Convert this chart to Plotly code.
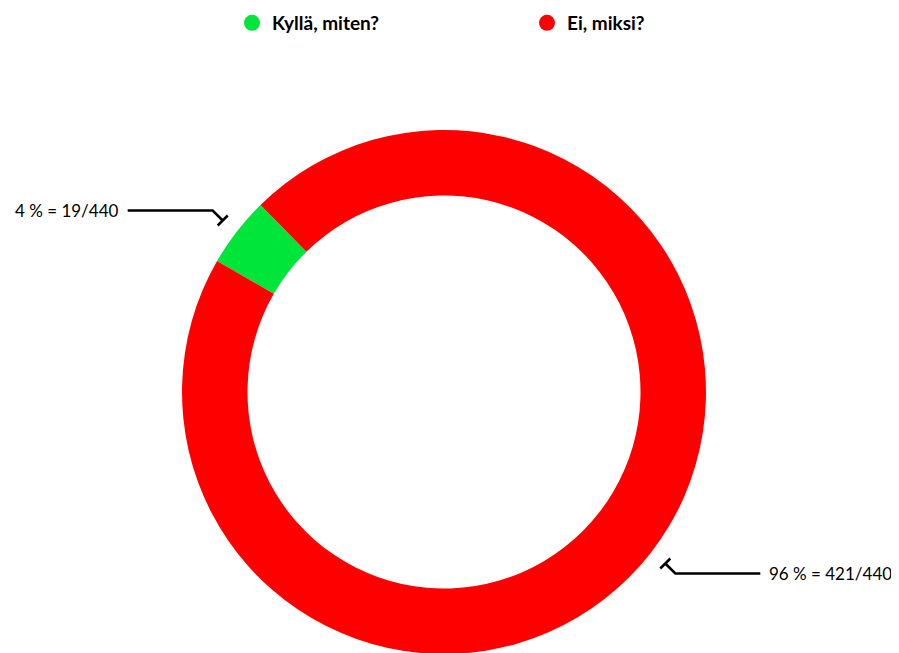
import math
import plotly.graph_objects as go

labels = ["Kyllä, miten?", "Ei, miksi?"]
values = [19, 421]
colors = ["#00E539", "#FF0000"]
total = sum(values)

W, H = 899, 653
OFF = 8                              # page body margin in the browser
CX, CY, R = 444.0 - OFF, 392.0 - OFF, 262.0   # pie centre / radius in figure px
ROT = 300
FONT = "Lato"

def px2paper(x, y):
    return x / W, 1 - y / H

fig = go.Figure()
fig.add_trace(go.Pie(
    labels=labels, values=values, hole=0.75, sort=False, direction="clockwise",
    rotation=ROT, marker=dict(colors=colors, line=dict(width=0)),
    textinfo="none", showlegend=False,
    domain=dict(x=[(CX - R) / W, (CX + R) / W],
                y=[1 - (CY + R) / H, 1 - (CY - R) / H]),
))

# legend entries with circle symbols
for lab, col in zip(labels, colors):
    fig.add_trace(go.Scatter(x=[None], y=[None], mode="markers", name=lab,
                             marker=dict(symbol="circle", size=18, color=col)))

shapes, annots = [], []
cum = 0
for lab, v in zip(labels, values):
    mid = ROT + 360 * (cum + v / 2) / total
    cum += v
    a = math.radians(mid)
    ex, ey = CX + (R + 18) * math.sin(a), CY - (R + 18) * math.cos(a)
    s = -1 if math.sin(a) < 0 else 1
    bx, by = ex + s * 10, ey + s * 10
    hx = bx + s * 85
    p = [px2paper(ex, ey), px2paper(bx, by), px2paper(hx, by)]
    shapes.append(dict(type="path", xref="paper", yref="paper",
                       path=f"M{p[0][0]},{p[0][1]} L{p[1][0]},{p[1][1]} L{p[2][0]},{p[2][1]}",
                       line=dict(color="black", width=2.5)))
    t1 = px2paper(ex - 5, ey + 5)
    t2 = px2paper(ex + 5, ey - 5)
    shapes.append(dict(type="line", xref="paper", yref="paper",
                       x0=t1[0], y0=t1[1], x1=t2[0], y1=t2[1],
                       line=dict(color="black", width=2.5)))
    tx, ty = px2paper(hx + s * 7, by)
    annots.append(dict(xref="paper", yref="paper", x=tx, y=ty, showarrow=False,
                       xanchor="left" if s > 0 else "right", yanchor="middle",
                       text=f"{round(100 * v / total)} % = {v}/{total}",
                       font=dict(family=FONT, size=17, color="black")))

fig.update_layout(
    width=W, height=H, margin=dict(l=0, r=0, t=0, b=0, autoexpand=False),
    paper_bgcolor="white", plot_bgcolor="white",
    xaxis=dict(visible=False), yaxis=dict(visible=False),
    shapes=shapes, annotations=annots,
    legend=dict(orientation="h", x=(240 - 16 - OFF + 8) / W, y=1 + 4 / H,
                xanchor="left", yanchor="top",
                entrywidth=250, entrywidthmode="pixels",
                font=dict(family=FONT, size=19, color="black", weight="bold")),
)
fig.write_html("out.html")
